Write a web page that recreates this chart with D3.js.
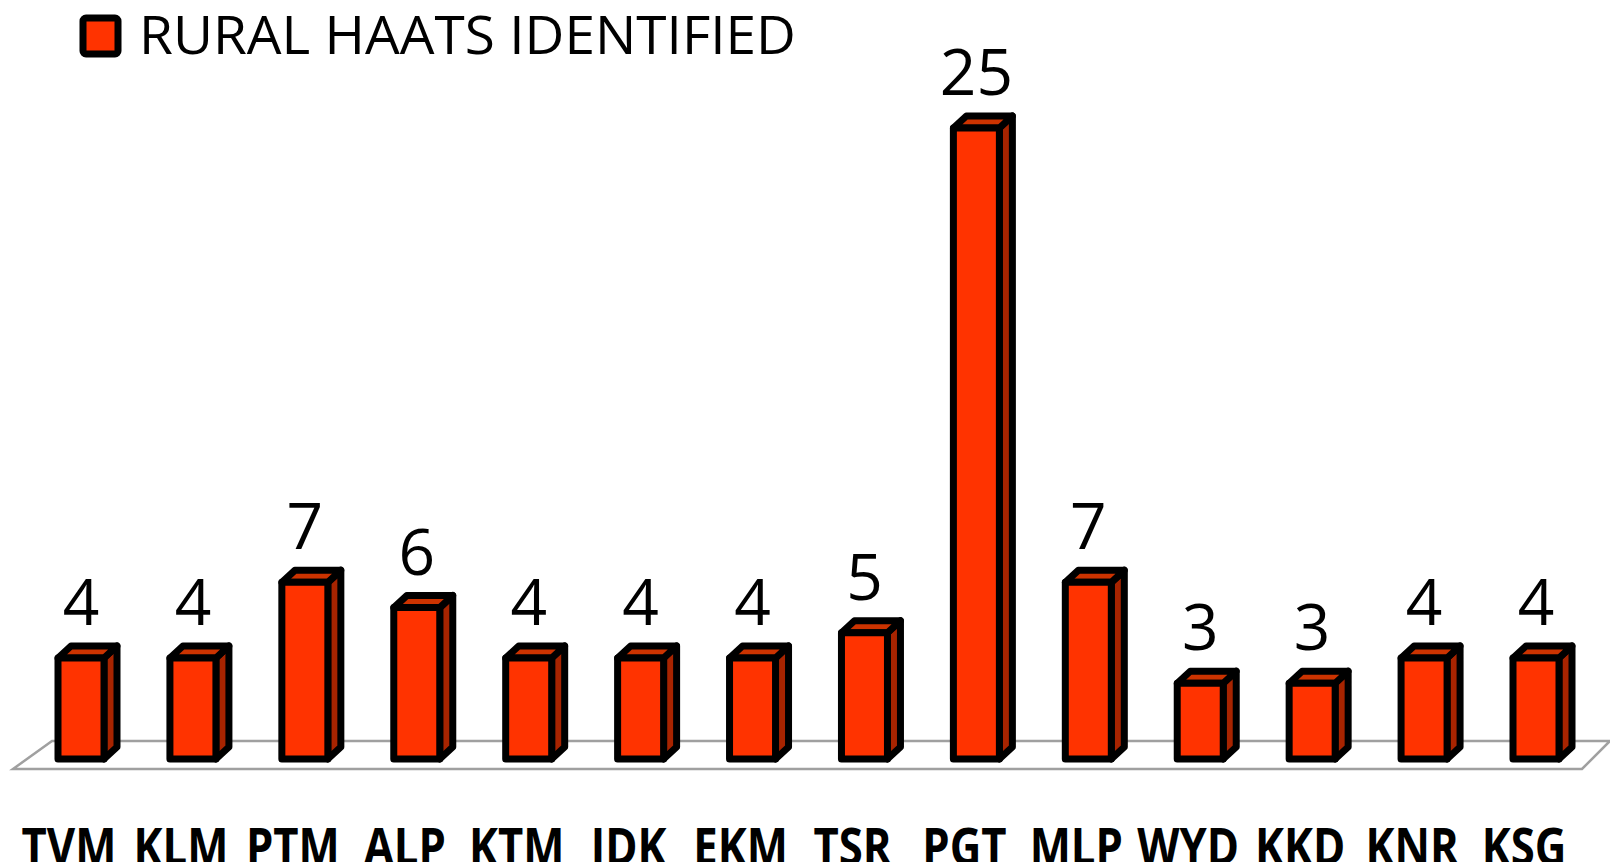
<!DOCTYPE html>
<html>
<head>
<meta charset="utf-8">
<script src="https://cdn.jsdelivr.net/npm/d3@7"></script>
<style>
  html, body { margin: 0; padding: 0; background: #fff; }
  svg { display: block; }
</style>
</head>
<body>
<div id="chart"></div>
<script>
// chart data
const districts = ["TVM", "KLM", "PTM", "ALP", "KTM", "IDK", "EKM", "TSR", "PGT", "MLP", "WYD", "KKD", "KNR", "KSG"];
const haats = [4, 4, 7, 6, 4, 4, 4, 5, 25, 7, 3, 3, 4, 4];
const seriesName = "RURAL HAATS IDENTIFIED";

const width = 1610;
const height = 862;

const svg = d3.select("#chart")
  .append("svg")
  .attr("width", width)
  .attr("height", height);

// scales
const x = d3.scalePoint()
  .domain(districts)
  .range([81, 1536]);

const y = d3.scaleLinear()
  .domain([0, 25])
  .range([759, 128]);

const barW = 46;   // front face width (stroke centre)
const dx = 13, dy = 12;  // 3d depth
const sw = 7;

// floor
const fl = x(districts[0]) - 68, fr = x(districts[districts.length - 1]) + 46;
const floorFront = 769, floorBack = 741, floorDx = 39;
svg.append("polygon")
  .attr("points", [[fl, floorFront], [fl + floorDx, floorBack], [fr + floorDx - 11, floorBack], [fr, floorFront]].join(" "))
  .attr("fill", "#fff")
  .attr("stroke", "#a0a0a0")
  .attr("stroke-width", 2.5);

const bars = svg.selectAll("g.bar")
  .data(districts.map((d, i) => ({ name: d, value: haats[i] })))
  .enter()
  .append("g")
  .attr("class", "bar");

const left = d => x(d.name) - barW / 2;
const right = d => x(d.name) + barW / 2;

// side face
bars.append("polygon")
  .attr("points", d => [[right(d), y(d.value)], [right(d) + dx, y(d.value) - dy], [right(d) + dx, y(0) - dy], [right(d), y(0)]].join(" "))
  .attr("fill", "#a82400")
  .attr("stroke", "#000")
  .attr("stroke-width", sw)
  .attr("stroke-linejoin", "round");

// top face
bars.append("polygon")
  .attr("points", d => [[left(d), y(d.value)], [left(d) + dx, y(d.value) - dy], [right(d) + dx, y(d.value) - dy], [right(d), y(d.value)]].join(" "))
  .attr("fill", "#cc3300")
  .attr("stroke", "#000")
  .attr("stroke-width", sw)
  .attr("stroke-linejoin", "round");

// front face
bars.append("rect")
  .attr("x", left)
  .attr("y", d => y(d.value))
  .attr("width", barW)
  .attr("height", d => y(0) - y(d.value))
  .attr("fill", "#ff3300")
  .attr("stroke", "#000")
  .attr("stroke-width", sw)
  .attr("stroke-linejoin", "round");

// value labels
bars.append("text")
  .attr("x", d => x(d.name))
  .attr("y", d => y(d.value) - 33)
  .attr("text-anchor", "middle")
  .style("font-family", "'Open Sans', sans-serif")
  .style("font-size", "64px")
  .style("fill", "#000")
  .text(d => d.value);

// category labels
svg.selectAll("text.cat")
  .data(districts)
  .enter()
  .append("text")
  .attr("class", "cat")
  .attr("transform", d => `translate(${x(d) - 12},865) scale(0.84,1)`)
  .attr("text-anchor", "middle")
  .style("font-family", "'Open Sans', sans-serif")
  .style("font-weight", "bold")
  .style("font-size", "52px")
  .style("fill", "#000")
  .text(d => d);

// legend
svg.append("rect")
  .attr("x", 83)
  .attr("y", 18)
  .attr("width", 35)
  .attr("height", 36)
  .attr("rx", 3)
  .attr("fill", "#ff3300")
  .attr("stroke", "#000")
  .attr("stroke-width", 7);

svg.append("text")
  .attr("x", 139)
  .attr("y", 54)
  .attr("textLength", 657)
  .attr("lengthAdjust", "spacingAndGlyphs")
  .style("font-family", "'Open Sans', sans-serif")
  .style("font-size", "53px")
  .style("fill", "#000")
  .text(seriesName);
</script>
</body>
</html>
